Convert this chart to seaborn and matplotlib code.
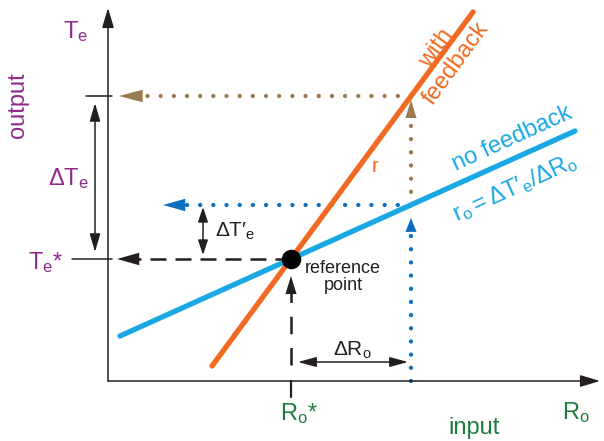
import numpy as np
import pandas as pd
import matplotlib
matplotlib.use("Agg")
import matplotlib.pyplot as plt
import seaborn as sns

# Response lines (input R_o on x, output T_e on y), end points of each line
nofb_R = [12, 467]
nofb_T = [45, 250]
fb_R = [104, 365]
fb_T = [15, 369]

# Reference state and perturbed state
R_star, T_star = 183, 122
R_pert = 303
Te_nofb = 176
Te_fb = 285

# Colours
PURPLE = "#8E2A8C"
GREEN = "#1E7B3E"
ORANGE = "#F26A22"
CYAN = "#1AA8E4"
BLUE = "#0B6FBE"
BROWN = "#9B7A4D"
INK = "#231F20"

sns.set_theme(style="white")
plt.rcParams["font.family"] = ["Liberation Sans", "DejaVu Sans"]
plt.rcParams["mathtext.fontset"] = "custom"
plt.rcParams["mathtext.rm"] = "Liberation Sans"
plt.rcParams["mathtext.it"] = "Liberation Sans:italic"

fig = plt.figure(figsize=(6.04, 4.41), dpi=100)
ax = fig.add_axes([0, 0, 1, 1])
ax.set_xlim(-108, 496)
ax.set_ylim(-60, 381)
ax.axis("off")


def arrow(tip, tail, color=INK, lw=1.1, hl=12, hw=4.0, style="-|>", z=3):
    ax.annotate("", xy=tip, xytext=tail,
                arrowprops=dict(arrowstyle=f"{style},head_length={hl},head_width={hw}",
                                color=color, lw=lw, shrinkA=0, shrinkB=0,
                                mutation_scale=1), zorder=z)


def dotted(xs, ys, color):
    ax.plot(xs, ys, color=color, lw=3.1, linestyle=(0, (0.01, 3.05)),
            dash_capstyle="round", zorder=2)


# axes
arrow((0, 373), (0, 0), hl=12, hw=3.6)
arrow((492, 0), (0, 0), hl=12, hw=3.6)

# response lines
lines = pd.DataFrame({
    "R": nofb_R + fb_R,
    "T": nofb_T + fb_T,
    "case": ["no feedback"] * 2 + ["with feedback"] * 2,
})
sns.lineplot(data=lines, x="R", y="T", hue="case", sort=False, legend=False,
             palette={"no feedback": CYAN, "with feedback": ORANGE},
             lw=3.8, solid_capstyle="round", ax=ax, zorder=4)

# dotted guides from the perturbed input
dotted([R_pert, R_pert], [0, 152], BLUE)
arrow((R_pert, 163), (R_pert, 149), color=BLUE, lw=0, hl=10, hw=4.0)
dotted([R_pert, 77], [Te_nofb, Te_nofb], BLUE)
arrow((55, Te_nofb), (77, Te_nofb), color=BLUE, lw=0, hl=16, hw=4.5)

dotted([R_pert, R_pert], [Te_nofb, 262], BROWN)
arrow((R_pert, 281), (R_pert, 263), color=BROWN, lw=0, hl=13, hw=4.0)
dotted([R_pert, 36], [Te_fb, Te_fb], BROWN)
arrow((11, Te_fb), (34, Te_fb), color=BROWN, lw=0, hl=17, hw=4.5)

# dashed guides to the reference point
ax.plot([R_star, 30], [T_star, T_star], color=INK, lw=1.8,
        linestyle=(0, (6.4, 3.6)), zorder=2)
arrow((9, T_star), (31, T_star), lw=0, hl=16, hw=4.5)
ax.plot([R_star, R_star], [16, 88], color=INK, lw=1.8,
        linestyle=(0, (7, 5.5)), zorder=2)
arrow((R_star, 105), (R_star, 86), lw=0, hl=13, hw=4.0)
ax.plot([R_star, R_star], [-16, 0], color=INK, lw=1.6, zorder=2)

# reference point
ax.scatter([R_star], [T_star], s=170, color="black", zorder=6)

# tick marks on the output axis
ax.plot([-22, 4], [Te_fb, Te_fb], color=INK, lw=1.1)
ax.plot([-36, 4], [T_star, T_star], color=INK, lw=1.1)

# increments
arrow((-13, 129), (-13, 278), style="<|-|>", hl=11, hw=3.2)
arrow((95, 126), (95, 174), style="<|-|>", hl=9, hw=3.0)
arrow((190, 19), (300, 19), style="<|-|>", hl=11, hw=3.0)

# labels
big = 17
ax.text(-32, 349, r"$\mathregular{T_e}$", color=PURPLE, fontsize=big,
        ha="center", va="center")
ax.text(-90, 276, "output", color=PURPLE, fontsize=big, rotation=90,
        ha="center", va="center")
ax.text(-40, 202, r"$\mathregular{ΔT_e}$", color=PURPLE, fontsize=big,
        ha="center", va="center")
ax.text(-62, 118, r"$\mathregular{T_e}$*", color=PURPLE, fontsize=big,
        ha="center", va="center")
ax.text(191, -33, r"$\mathregular{R_o}$*", color=GREEN, fontsize=big,
        ha="center", va="center")
ax.text(366, -47, "input", color=GREEN, fontsize=big, ha="center", va="center")
ax.text(468, -32, r"$\mathregular{R_o}$", color=GREEN, fontsize=big,
        ha="center", va="center")
ax.text(244, 31, r"$\mathregular{ΔR_o}$", color=INK, fontsize=15,
        ha="center", va="center")
ax.text(127, 150, r"$\mathregular{ΔT′_e}$", color=INK, fontsize=15,
        ha="center", va="center")
ax.text(235, 104, "reference\npoint", color=INK, fontsize=13,
        ha="center", va="center", linespacing=0.95)
ax.text(267, 214, "r", color=ORANGE, fontsize=15, ha="center", va="center")
ax.text(338, 325, "with\nfeedback", color=ORANGE, fontsize=big, rotation=54,
        ha="center", va="center", rotation_mode="anchor", linespacing=1.15)
ax.text(404, 242, "no feedback", color=CYAN, fontsize=big, rotation=24.5,
        ha="center", va="center", rotation_mode="anchor")
ax.text(407, 193, r"$\mathregular{r_o = ΔT′_e/ΔR_o}$", color=CYAN, fontsize=big,
        rotation=24.5, ha="center", va="center", rotation_mode="anchor")

fig.savefig("out.png", dpi=100)
